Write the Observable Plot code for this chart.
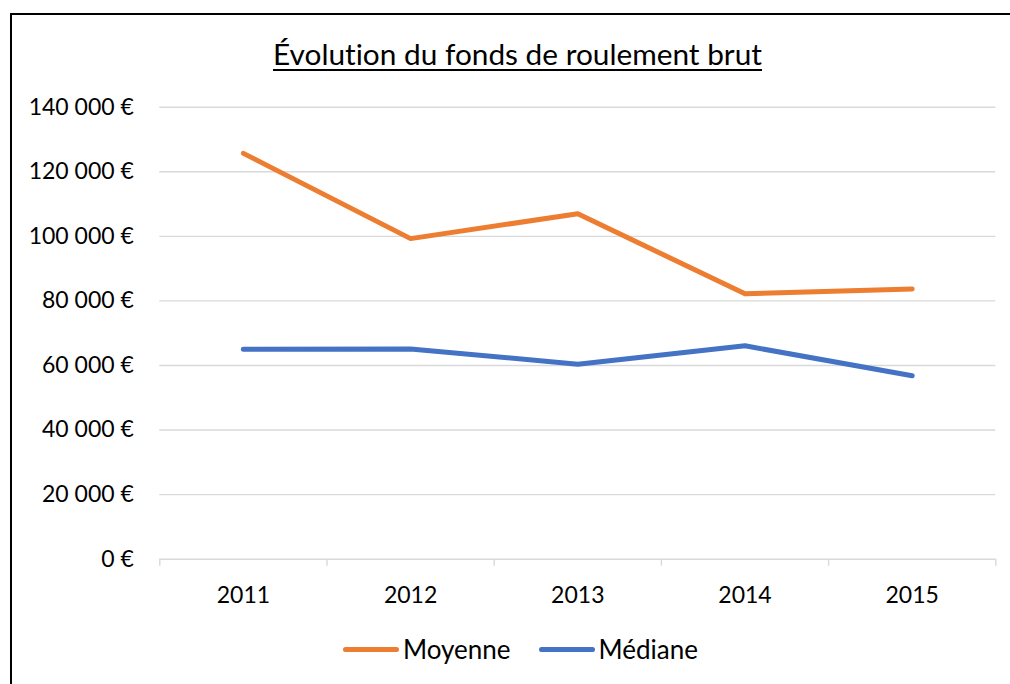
<!DOCTYPE html>
<html>
<head>
<meta charset="utf-8">
<script src="https://cdn.jsdelivr.net/npm/d3@7"></script>
<script src="https://cdn.jsdelivr.net/npm/@observablehq/plot@0.6"></script>
<style>
  html, body { margin: 0; padding: 0; background: #fff; overflow: hidden; }
  #wrap { position: relative; width: 1010px; height: 684px; overflow: hidden; font-family: Lato, "Noto Sans", sans-serif; color: #000; font-variant-ligatures: none; }
  #frame { position: absolute; left: 10px; top: 13px; width: 1100px; height: 1000px; border: 2px solid #000; box-sizing: border-box; }
  #title { position: absolute; left: 10px; width: 1015px; top: 36px; text-align: center; font-size: 29.8px; line-height: 36px; text-decoration: underline; text-decoration-thickness: 1.5px; text-underline-offset: 4px; white-space: nowrap; }
  #chart { position: absolute; left: 0; top: 0; }
  #legend { position: absolute; left: 13px; width: 1015px; top: 633px; display: flex; justify-content: center; align-items: center; font-size: 26px; line-height: 32px; }
  .item { display: flex; align-items: center; }
  .sw { width: 56px; height: 5px; border-radius: 3px; margin-right: 4px; }
  .gap { width: 28px; }
  svg text { font-variant-ligatures: none; }
</style>
</head>
<body>
<div id="wrap">
  <div id="frame"></div>
  <div id="chart"></div>
  <div id="title">Évolution du fonds de roulement brut</div>
  <div id="legend"></div>
</div>
<script>
const years = [2011, 2012, 2013, 2014, 2015];
const moyenne = [125700, 99300, 107000, 82200, 83700];
const mediane = [65050, 65100, 60400, 66100, 56800];
const seriesNames = ["Moyenne", "Médiane"];
const seriesColors = ["#ED7D31", "#4472C4"];
const yTicks = [0, 20000, 40000, 60000, 80000, 100000, 120000, 140000];

const data = [];
years.forEach((yr, i) => {
  data.push({year: yr, value: moyenne[i], series: seriesNames[0]});
  data.push({year: yr, value: mediane[i], series: seriesNames[1]});
});

const boundaries = years.map(y => y - 0.5).concat([years[years.length - 1] + 0.5]);
const fmt = v => (v === 0 ? "0" : d3.format(",")(v).replace(/,/g, " ")) + " €";

const plot = Plot.plot({
  width: 1010,
  height: 684,
  marginLeft: 159.3,
  marginRight: 14.7,
  marginTop: 106.7,
  marginBottom: 125.3,
  style: {fontFamily: "Lato, 'Noto Sans', sans-serif", fontSize: "23px", color: "#000", background: "transparent"},
  x: {type: "linear", domain: [boundaries[0], boundaries[boundaries.length - 1]]},
  y: {domain: [0, 140000]},
  color: {domain: seriesNames, range: seriesColors},
  marks: [
    Plot.gridY(yTicks.filter(d => d > 0), {stroke: "#d9d9d9", strokeOpacity: 1, strokeWidth: 1.4}),
    Plot.ruleY([0], {stroke: "#d9d9d9", strokeWidth: 1.4}),
    Plot.axisY({ticks: yTicks, tickSize: 0, tickPadding: 26, tickFormat: fmt, label: null, fontSize: "23px"}),
    Plot.axisX({ticks: boundaries, tickSize: 7, tickFormat: () => "", stroke: "#d9d9d9", strokeWidth: 1.4, strokeOpacity: 1, label: null}),
    Plot.axisX({ticks: years, tickSize: 0, tickPadding: 27, tickFormat: d => String(d), label: null, fontSize: "23px"}),
    Plot.line(data, {x: "year", y: "value", z: "series", stroke: "series", strokeWidth: 5, strokeLinecap: "round", strokeLinejoin: "round"})
  ]
});
document.getElementById("chart").appendChild(plot);

const legend = document.getElementById("legend");
seriesNames.forEach((name, i) => {
  if (i > 0) { const g = document.createElement("div"); g.className = "gap"; legend.appendChild(g); }
  const item = document.createElement("div");
  item.className = "item";
  const sw = document.createElement("div");
  sw.className = "sw";
  sw.style.background = seriesColors[i];
  const t = document.createElement("span");
  t.textContent = name;
  item.appendChild(sw);
  item.appendChild(t);
  legend.appendChild(item);
});
</script>
</body>
</html>
